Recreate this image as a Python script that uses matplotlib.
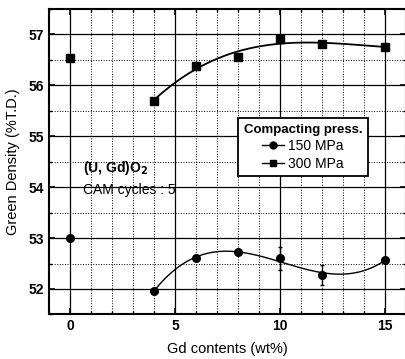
import matplotlib
matplotlib.use('Agg')
import matplotlib.pyplot as plt
import numpy as np
from matplotlib.ticker import MultipleLocator

plt.rcParams['font.family'] = ['Liberation Sans', 'DejaVu Sans']

# data
gd = [0, 4, 6, 8, 10, 12, 15]
dens_150 = [53.0, 51.97, 52.6, 52.72, 52.6, 52.27, 52.57]
dens_300 = [56.53, 55.69, 56.38, 56.55, 56.9, 56.8, 56.75]
err_150 = [0, 0, 0, 0, 0.22, 0.2, 0]
err_300 = [0, 0, 0, 0, 0.06, 0.05, 0]

fig = plt.figure(figsize=(4.06, 3.59), dpi=100)
ax = fig.add_axes([0.1207, 0.124, 0.879, 0.852])

# smooth trend through the 4..15 wt% points
xs = np.linspace(4, 15, 200)
fit150 = np.polyfit(gd[1:], dens_150[1:], 3)
fit300 = np.polyfit(gd[1:], dens_300[1:], 3)
ax.plot(xs, np.polyval(fit150, xs), color='black', lw=1.0)
ax.plot(xs, np.polyval(fit300, xs), color='black', lw=1.3)

ax.errorbar(gd, dens_150, yerr=err_150, fmt='none', ecolor='black', elinewidth=1.0, capsize=1.5)
ax.errorbar(gd, dens_300, yerr=err_300, fmt='none', ecolor='black', elinewidth=1.0, capsize=1.5)
ax.plot(gd, dens_150, 'o', color='black', ms=5.5)
ax.plot(gd, dens_300, 's', color='black', ms=5.5)

# legend handles
h1, = ax.plot([], [], '-o', color='black', ms=5, lw=1, label='150 MPa')
h2, = ax.plot([], [], '-s', color='black', ms=5, lw=1, label='300 MPa')
leg = ax.legend(handles=[h1, h2], title='Compacting press.', loc='upper left',
                bbox_to_anchor=(0.51, 0.665), frameon=True, fancybox=False,
                edgecolor='black', framealpha=1, handlelength=1.6, handletextpad=0.3,
                borderpad=0.4, labelspacing=0.25, fontsize=10)
leg.get_title().set_fontweight('bold')
leg.get_title().set_fontsize(9.5)
leg.get_frame().set_linewidth(1.3)

ax.text(0.6, 54.3, r'(U, Gd)O$_\mathbf{2}$', fontsize=10, fontweight='bold')
ax.text(0.6, 53.87, 'CAM cycles : 5', fontsize=10)

ax.set_xlim(-1, 16)
ax.set_ylim(51.5, 57.5)
ax.xaxis.set_major_locator(MultipleLocator(5))
ax.xaxis.set_minor_locator(MultipleLocator(1))
ax.yaxis.set_major_locator(MultipleLocator(1))
ax.yaxis.set_minor_locator(MultipleLocator(0.5))
ax.grid(which='major', color='black', lw=0.9)
ax.grid(which='minor', color='black', lw=0.7, ls=':')
ax.tick_params(which='both', direction='in', top=True, right=True)
ax.tick_params(which='major', length=4, width=1.2, labelsize=10)
ax.tick_params(which='minor', length=2.5, width=1)
for lab in ax.get_xticklabels() + ax.get_yticklabels():
    lab.set_fontweight('bold')
for s in ax.spines.values():
    s.set_linewidth(1.5)

ax.set_xlabel('Gd contents (wt%)', fontsize=10.5, labelpad=6)
ax.set_ylabel('Green Density (%T.D.)', fontsize=10.5, labelpad=6)

fig.savefig('out.png', dpi=100)
